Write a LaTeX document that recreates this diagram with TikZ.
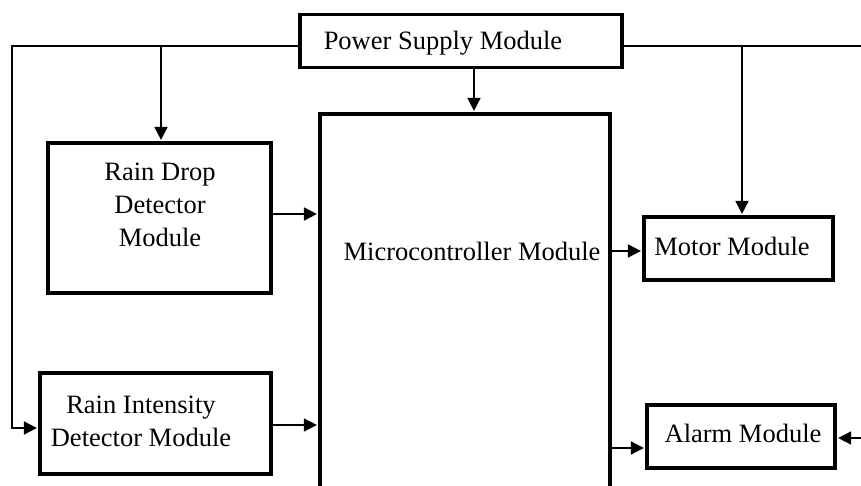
\documentclass[tikz,border=0pt]{standalone}
\usepackage{fontspec}
\setmainfont{Liberation Serif}
\usetikzlibrary{arrows.meta}
\begin{document}
\begin{tikzpicture}[x=1pt,y=-1pt,
  box/.style={draw,line width=3.2pt,inner sep=0pt},
  conn/.style={line width=1.7pt},
  arr/.style={conn,-{Triangle[length=13pt,width=13pt]},shorten >=1.5pt},
  lbl/.style={font=\fontsize{26.5}{33}\selectfont,align=center,inner sep=0pt}]
\useasboundingbox (0,0) rectangle (861,486);
\clip (0,0) rectangle (861,486);
% boxes
\node[box,minimum width=322pt,minimum height=53pt] (power) at (461,41) {};
\node[box,minimum width=290pt,minimum height=416pt] (micro) at (465,322) {};
\node[box,minimum width=223pt,minimum height=150pt] (drop) at (159.5,218) {};
\node[box,minimum width=231pt,minimum height=101pt] (inten) at (155.5,423.5) {};
\node[box,minimum width=189pt,minimum height=63pt] (motor) at (738.5,248.5) {};
\node[box,minimum width=188pt,minimum height=63pt] (alarm) at (741,436.5) {};
% labels
\node[lbl] (powert) at (443,43) {Power Supply Module};
\node[lbl] (microt) at (472,251) {Microcontroller Module};
\node[lbl] (dropt) at (160,205) {Rain Drop\\Detector\\Module};
\node[lbl] (intent) at (141,421) {Rain Intensity\\Detector Module};
\node[lbl] (motort) at (732,246) {Motor Module};
\node[lbl] (alarmt) at (743,433) {Alarm Module};
% helper coordinates
\coordinate (pl) at (12,46);
\coordinate (pr) at (861,46);
\coordinate (bl) at (161,46);
\coordinate (br) at (742,46);
\coordinate (mx) at (474,0);
\coordinate (yi) at (0,428);
\coordinate (y1) at (0,214);
\coordinate (y2) at (0,425);
\coordinate (y3) at (0,251);
\coordinate (y4) at (0,448);
\coordinate (ra) at (861,438);
% connectors
\draw[arr] (power.west |- pl) -- (pl) |- (inten.west |- yi);
\draw[arr] (bl) -- (bl |- drop.north);
\draw[conn] (power.east |- pr) -- (pr);
\draw[arr] (br) -- (br |- motor.north);
\draw[arr] (power.south -| mx) -- (micro.north -| mx);
\draw[arr] (drop.east |- y1) -- (micro.west |- y1);
\draw[arr] (inten.east |- y2) -- (micro.west |- y2);
\draw[arr] (micro.east |- y3) -- (motor.west |- y3);
\draw[arr] (micro.east |- y4) -- (alarm.west |- y4);
\draw[arr] (ra) -- (alarm.east |- ra);
\end{tikzpicture}
\end{document}
